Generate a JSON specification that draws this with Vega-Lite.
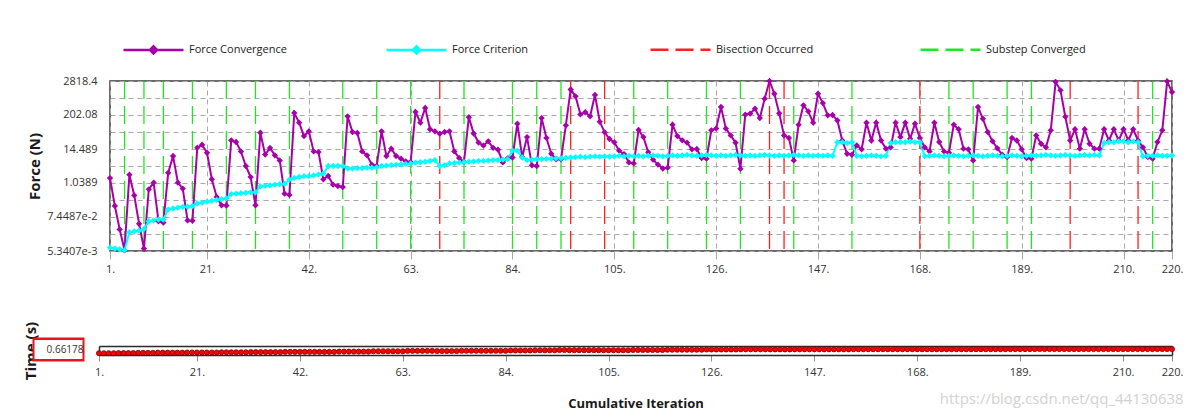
{
"$schema": "https://vega.github.io/schema/vega-lite/v6.json",
"background": "white",
"padding": {"left": 20, "right": 10, "top": 17, "bottom": 3},
"spacing": 46,
"title": {"text": "https://blog.csdn.net/qq_44130638", "orient": "bottom", "anchor": "end", "fontSize": 15, "fontWeight": "normal", "color": "#d2d2d2", "offset": -18, "font": "Open Sans"},
"config": {
 "font": "Open Sans",
 "view": {"stroke": "#3a3a3a", "strokeWidth": 1.5},
 "axis": {"labelFont": "Open Sans", "labelFontSize": 11, "labelColor": "#333333", "titleFont": "Open Sans", "titleFontWeight": "bold", "titleColor": "#1a1a1a"}
},
"datasets": {
"events": [
{"iter":4,"series":"Substep Converged"},{"iter":8,"series":"Substep Converged"},{"iter":12,"series":"Substep Converged"},{"iter":18,"series":"Substep Converged"},{"iter":25,"series":"Substep Converged"},{"iter":31,"series":"Substep Converged"},{"iter":38,"series":"Substep Converged"},{"iter":49,"series":"Substep Converged"},{"iter":56,"series":"Substep Converged"},{"iter":63,"series":"Substep Converged"},{"iter":74,"series":"Substep Converged"},{"iter":84,"series":"Substep Converged"},{"iter":89,"series":"Substep Converged"},{"iter":94,"series":"Substep Converged"},{"iter":109,"series":"Substep Converged"},{"iter":116,"series":"Substep Converged"},{"iter":124,"series":"Substep Converged"},{"iter":131,"series":"Substep Converged"},{"iter":142,"series":"Substep Converged"},{"iter":154,"series":"Substep Converged"},{"iter":174,"series":"Substep Converged"},{"iter":179,"series":"Substep Converged"},{"iter":186,"series":"Substep Converged"},{"iter":191,"series":"Substep Converged"},{"iter":216,"series":"Substep Converged"},
{"iter":69,"series":"Bisection Occurred"},{"iter":96,"series":"Bisection Occurred"},{"iter":103,"series":"Bisection Occurred"},{"iter":137,"series":"Bisection Occurred"},{"iter":140,"series":"Bisection Occurred"},{"iter":168,"series":"Bisection Occurred"},{"iter":199,"series":"Bisection Occurred"},{"iter":213,"series":"Bisection Occurred"}
],
"iters": [
{"iter":1,"Force Convergence":1.522,"Force Criterion":0.00695,"time":0.2},
{"iter":2,"Force Convergence":0.1754,"Force Criterion":0.00651,"time":0.2},
{"iter":3,"Force Convergence":0.02847,"Force Criterion":0.00609,"time":0.2},
{"iter":4,"Force Convergence":0.00563,"Force Criterion":0.0057,"time":0.2},
{"iter":5,"Force Convergence":1.982,"Force Criterion":0.0228,"time":0.22},
{"iter":6,"Force Convergence":0.3971,"Force Criterion":0.0243,"time":0.22},
{"iter":7,"Force Convergence":0.04396,"Force Criterion":0.026,"time":0.22},
{"iter":8,"Force Convergence":0.006421,"Force Criterion":0.0296,"time":0.22},
{"iter":9,"Force Convergence":0.6379,"Force Criterion":0.0536,"time":0.24},
{"iter":10,"Force Convergence":1.067,"Force Criterion":0.0572,"time":0.24},
{"iter":11,"Force Convergence":0.05358,"Force Criterion":0.0611,"time":0.24},
{"iter":12,"Force Convergence":0.04822,"Force Criterion":0.0611,"time":0.24},
{"iter":13,"Force Convergence":2.29,"Force Criterion":0.135,"time":0.26},
{"iter":14,"Force Convergence":8.44,"Force Criterion":0.144,"time":0.26},
{"iter":15,"Force Convergence":1.067,"Force Criterion":0.154,"time":0.26},
{"iter":16,"Force Convergence":0.6724,"Force Criterion":0.164,"time":0.26},
{"iter":17,"Force Convergence":0.05722,"Force Criterion":0.164,"time":0.26},
{"iter":18,"Force Convergence":0.056,"Force Criterion":0.175,"time":0.26},
{"iter":19,"Force Convergence":16.1,"Force Criterion":0.214,"time":0.28},
{"iter":20,"Force Convergence":20.14,"Force Criterion":0.228,"time":0.28},
{"iter":21,"Force Convergence":10.84,"Force Criterion":0.244,"time":0.28},
{"iter":22,"Force Convergence":1.388,"Force Criterion":0.26,"time":0.28},
{"iter":23,"Force Convergence":0.3527,"Force Criterion":0.278,"time":0.28},
{"iter":24,"Force Convergence":0.1849,"Force Criterion":0.297,"time":0.28},
{"iter":25,"Force Convergence":0.182,"Force Criterion":0.317,"time":0.28},
{"iter":26,"Force Convergence":28.38,"Force Criterion":0.441,"time":0.3},
{"iter":27,"Force Convergence":24.87,"Force Criterion":0.453,"time":0.3},
{"iter":28,"Force Convergence":12.05,"Force Criterion":0.471,"time":0.3},
{"iter":29,"Force Convergence":3.879,"Force Criterion":0.484,"time":0.3},
{"iter":30,"Force Convergence":1.647,"Force Criterion":0.503,"time":0.3},
{"iter":31,"Force Convergence":0.1849,"Force Criterion":0.503,"time":0.3},
{"iter":32,"Force Convergence":51.33,"Force Criterion":0.798,"time":0.32},
{"iter":33,"Force Convergence":9.38,"Force Criterion":0.83,"time":0.32},
{"iter":34,"Force Convergence":15.68,"Force Criterion":0.864,"time":0.32},
{"iter":35,"Force Convergence":8.898,"Force Criterion":0.911,"time":0.32},
{"iter":36,"Force Convergence":5.992,"Force Criterion":0.947,"time":0.32},
{"iter":37,"Force Convergence":0.4529,"Force Criterion":0.973,"time":0.32},
{"iter":38,"Force Convergence":0.413,"Force Criterion":1.35,"time":0.32},
{"iter":39,"Force Convergence":236.7,"Force Criterion":1.54,"time":0.35},
{"iter":40,"Force Convergence":111.7,"Force Criterion":1.65,"time":0.35},
{"iter":41,"Force Convergence":39.44,"Force Criterion":1.76,"time":0.35},
{"iter":42,"Force Convergence":57.04,"Force Criterion":1.76,"time":0.35},
{"iter":43,"Force Convergence":12.05,"Force Criterion":1.88,"time":0.35},
{"iter":44,"Force Convergence":11.43,"Force Criterion":2.01,"time":0.35},
{"iter":45,"Force Convergence":1.388,"Force Criterion":2.15,"time":0.35},
{"iter":46,"Force Convergence":1.783,"Force Criterion":3.88,"time":0.35},
{"iter":47,"Force Convergence":0.9106,"Force Criterion":3.88,"time":0.35},
{"iter":48,"Force Convergence":0.8197,"Force Criterion":3.88,"time":0.35},
{"iter":49,"Force Convergence":0.7571,"Force Criterion":3.88,"time":0.35},
{"iter":50,"Force Convergence":181.8,"Force Criterion":3.18,"time":0.38},
{"iter":51,"Force Convergence":54.12,"Force Criterion":3.18,"time":0.38},
{"iter":52,"Force Convergence":50.0,"Force Criterion":3.27,"time":0.38},
{"iter":53,"Force Convergence":12.05,"Force Criterion":3.31,"time":0.38},
{"iter":54,"Force Convergence":8.898,"Force Criterion":3.4,"time":0.38},
{"iter":55,"Force Convergence":4.311,"Force Criterion":3.4,"time":0.38},
{"iter":56,"Force Convergence":3.879,"Force Criterion":3.49,"time":0.38},
{"iter":57,"Force Convergence":57.04,"Force Criterion":3.88,"time":0.42},
{"iter":58,"Force Convergence":8.44,"Force Criterion":3.98,"time":0.42},
{"iter":59,"Force Convergence":14.88,"Force Criterion":4.15,"time":0.42},
{"iter":60,"Force Convergence":8.44,"Force Criterion":4.26,"time":0.42},
{"iter":61,"Force Convergence":6.836,"Force Criterion":4.43,"time":0.42},
{"iter":62,"Force Convergence":5.538,"Force Criterion":4.55,"time":0.42},
{"iter":63,"Force Convergence":5.323,"Force Criterion":4.73,"time":0.42},
{"iter":64,"Force Convergence":256.1,"Force Criterion":5.05,"time":0.46},
{"iter":65,"Force Convergence":111.7,"Force Criterion":5.19,"time":0.46},
{"iter":66,"Force Convergence":346.8,"Force Criterion":5.4,"time":0.46},
{"iter":67,"Force Convergence":66.8,"Force Criterion":5.76,"time":0.46},
{"iter":68,"Force Convergence":57.04,"Force Criterion":6.15,"time":0.46},
{"iter":69,"Force Convergence":47.45,"Force Criterion":3.88,"time":0.46},
{"iter":70,"Force Convergence":54.12,"Force Criterion":4.15,"time":0.44},
{"iter":71,"Force Convergence":57.04,"Force Criterion":4.73,"time":0.44},
{"iter":72,"Force Convergence":12.05,"Force Criterion":4.86,"time":0.44},
{"iter":73,"Force Convergence":7.208,"Force Criterion":5.05,"time":0.44},
{"iter":74,"Force Convergence":5.323,"Force Criterion":5.19,"time":0.44},
{"iter":75,"Force Convergence":170.2,"Force Criterion":5.4,"time":0.47},
{"iter":76,"Force Convergence":48.07,"Force Criterion":5.54,"time":0.47},
{"iter":77,"Force Convergence":23.9,"Force Criterion":5.76,"time":0.47},
{"iter":78,"Force Convergence":18.86,"Force Criterion":5.76,"time":0.47},
{"iter":79,"Force Convergence":26.21,"Force Criterion":5.92,"time":0.47},
{"iter":80,"Force Convergence":15.89,"Force Criterion":6.15,"time":0.47},
{"iter":81,"Force Convergence":13.75,"Force Criterion":6.15,"time":0.47},
{"iter":82,"Force Convergence":5.117,"Force Criterion":6.32,"time":0.47},
{"iter":83,"Force Convergence":7.02,"Force Criterion":6.57,"time":0.47},
{"iter":84,"Force Convergence":7.498,"Force Criterion":12.7,"time":0.47},
{"iter":85,"Force Convergence":103.2,"Force Criterion":12.7,"time":0.5},
{"iter":86,"Force Convergence":7.801,"Force Criterion":7.5,"time":0.5},
{"iter":87,"Force Convergence":36.44,"Force Criterion":6.15,"time":0.5},
{"iter":88,"Force Convergence":4.09,"Force Criterion":6.32,"time":0.5},
{"iter":89,"Force Convergence":3.879,"Force Criterion":6.57,"time":0.5},
{"iter":90,"Force Convergence":159.4,"Force Criterion":6.57,"time":0.52},
{"iter":91,"Force Convergence":34.12,"Force Criterion":6.75,"time":0.52},
{"iter":92,"Force Convergence":10.02,"Force Criterion":6.75,"time":0.52},
{"iter":93,"Force Convergence":6.486,"Force Criterion":7.02,"time":0.52},
{"iter":94,"Force Convergence":6.572,"Force Criterion":7.02,"time":0.52},
{"iter":95,"Force Convergence":90.45,"Force Criterion":7.21,"time":0.55},
{"iter":96,"Force Convergence":1458,"Force Criterion":7.5,"time":0.55},
{"iter":97,"Force Convergence":861,"Force Criterion":7.7,"time":0.54},
{"iter":98,"Force Convergence":213,"Force Criterion":8.01,"time":0.54},
{"iter":99,"Force Convergence":249.5,"Force Criterion":7.7,"time":0.54},
{"iter":100,"Force Convergence":181.8,"Force Criterion":8.01,"time":0.54},
{"iter":101,"Force Convergence":956.8,"Force Criterion":8.22,"time":0.54},
{"iter":102,"Force Convergence":119.3,"Force Criterion":8.01,"time":0.54},
{"iter":103,"Force Convergence":52.71,"Force Criterion":8.22,"time":0.54},
{"iter":104,"Force Convergence":31.52,"Force Criterion":8.01,"time":0.53},
{"iter":105,"Force Convergence":24.22,"Force Criterion":8.22,"time":0.53},
{"iter":106,"Force Convergence":12.7,"Force Criterion":8.55,"time":0.53},
{"iter":107,"Force Convergence":9.759,"Force Criterion":8.22,"time":0.53},
{"iter":108,"Force Convergence":5.117,"Force Criterion":8.55,"time":0.53},
{"iter":109,"Force Convergence":4.727,"Force Criterion":8.22,"time":0.53},
{"iter":110,"Force Convergence":63.37,"Force Criterion":8.55,"time":0.56},
{"iter":111,"Force Convergence":36.44,"Force Criterion":8.22,"time":0.56},
{"iter":112,"Force Convergence":11.28,"Force Criterion":8.55,"time":0.56},
{"iter":113,"Force Convergence":6.317,"Force Criterion":8.78,"time":0.56},
{"iter":114,"Force Convergence":4.311,"Force Criterion":8.55,"time":0.56},
{"iter":115,"Force Convergence":3.2,"Force Criterion":8.22,"time":0.56},
{"iter":116,"Force Convergence":3.4,"Force Criterion":8.55,"time":0.56},
{"iter":117,"Force Convergence":95.36,"Force Criterion":8.78,"time":0.59},
{"iter":118,"Force Convergence":39.44,"Force Criterion":8.55,"time":0.59},
{"iter":119,"Force Convergence":28.38,"Force Criterion":8.78,"time":0.59},
{"iter":120,"Force Convergence":23.59,"Force Criterion":9.14,"time":0.59},
{"iter":121,"Force Convergence":14.11,"Force Criterion":8.78,"time":0.59},
{"iter":122,"Force Convergence":14.49,"Force Criterion":8.55,"time":0.59},
{"iter":123,"Force Convergence":7.208,"Force Criterion":8.78,"time":0.59},
{"iter":124,"Force Convergence":6.836,"Force Criterion":9.14,"time":0.59},
{"iter":125,"Force Convergence":61.74,"Force Criterion":8.78,"time":0.61},
{"iter":126,"Force Convergence":70.41,"Force Criterion":8.55,"time":0.61},
{"iter":127,"Force Convergence":375.4,"Force Criterion":8.78,"time":0.61},
{"iter":128,"Force Convergence":70.41,"Force Criterion":8.55,"time":0.61},
{"iter":129,"Force Convergence":41.57,"Force Criterion":8.78,"time":0.61},
{"iter":130,"Force Convergence":23.59,"Force Criterion":9.14,"time":0.61},
{"iter":131,"Force Convergence":3.142,"Force Criterion":8.78,"time":0.61},
{"iter":132,"Force Convergence":207.5,"Force Criterion":8.55,"time":0.63},
{"iter":133,"Force Convergence":224.5,"Force Criterion":8.78,"time":0.63},
{"iter":134,"Force Convergence":329,"Force Criterion":8.55,"time":0.63},
{"iter":135,"Force Convergence":159.4,"Force Criterion":8.78,"time":0.63},
{"iter":136,"Force Convergence":715.8,"Force Criterion":9.14,"time":0.63},
{"iter":137,"Force Convergence":2818.4,"Force Criterion":8.78,"time":0.63},
{"iter":138,"Force Convergence":1049,"Force Criterion":8.55,"time":0.625},
{"iter":139,"Force Convergence":230.5,"Force Criterion":8.78,"time":0.625},
{"iter":140,"Force Convergence":41.57,"Force Criterion":8.55,"time":0.625},
{"iter":141,"Force Convergence":34.12,"Force Criterion":8.78,"time":0.62},
{"iter":142,"Force Convergence":5.992,"Force Criterion":9.14,"time":0.62},
{"iter":143,"Force Convergence":95.36,"Force Criterion":8.78,"time":0.63},
{"iter":144,"Force Convergence":428.2,"Force Criterion":8.55,"time":0.63},
{"iter":145,"Force Convergence":266.5,"Force Criterion":8.78,"time":0.63},
{"iter":146,"Force Convergence":111.7,"Force Criterion":8.55,"time":0.63},
{"iter":147,"Force Convergence":1049,"Force Criterion":8.78,"time":0.63},
{"iter":148,"Force Convergence":508.3,"Force Criterion":8.55,"time":0.63},
{"iter":149,"Force Convergence":196.9,"Force Criterion":8.78,"time":0.63},
{"iter":150,"Force Convergence":202.1,"Force Criterion":8.55,"time":0.63},
{"iter":151,"Force Convergence":132.6,"Force Criterion":24.5,"time":0.63},
{"iter":152,"Force Convergence":28.01,"Force Criterion":24.5,"time":0.63},
{"iter":153,"Force Convergence":10.02,"Force Criterion":23.0,"time":0.63},
{"iter":154,"Force Convergence":9.259,"Force Criterion":24.5,"time":0.63},
{"iter":155,"Force Convergence":19.11,"Force Criterion":8.55,"time":0.645},
{"iter":156,"Force Convergence":14.11,"Force Criterion":8.22,"time":0.645},
{"iter":157,"Force Convergence":111.7,"Force Criterion":8.55,"time":0.645},
{"iter":158,"Force Convergence":28.01,"Force Criterion":8.78,"time":0.645},
{"iter":159,"Force Convergence":111.7,"Force Criterion":8.55,"time":0.645},
{"iter":160,"Force Convergence":28.01,"Force Criterion":8.22,"time":0.645},
{"iter":161,"Force Convergence":14.88,"Force Criterion":8.55,"time":0.645},
{"iter":162,"Force Convergence":16.53,"Force Criterion":23.0,"time":0.645},
{"iter":163,"Force Convergence":111.7,"Force Criterion":24.5,"time":0.645},
{"iter":164,"Force Convergence":36.44,"Force Criterion":24.5,"time":0.645},
{"iter":165,"Force Convergence":111.7,"Force Criterion":24.5,"time":0.645},
{"iter":166,"Force Convergence":31.94,"Force Criterion":26.2,"time":0.645},
{"iter":167,"Force Convergence":103.2,"Force Criterion":24.5,"time":0.645},
{"iter":168,"Force Convergence":34.12,"Force Criterion":24.5,"time":0.645},
{"iter":169,"Force Convergence":16.53,"Force Criterion":8.22,"time":0.64},
{"iter":170,"Force Convergence":12.05,"Force Criterion":8.55,"time":0.64},
{"iter":171,"Force Convergence":111.7,"Force Criterion":8.78,"time":0.64},
{"iter":172,"Force Convergence":24.87,"Force Criterion":8.55,"time":0.64},
{"iter":173,"Force Convergence":12.05,"Force Criterion":8.22,"time":0.64},
{"iter":174,"Force Convergence":10.84,"Force Criterion":8.55,"time":0.64},
{"iter":175,"Force Convergence":95.36,"Force Criterion":8.78,"time":0.645},
{"iter":176,"Force Convergence":66.8,"Force Criterion":8.55,"time":0.645},
{"iter":177,"Force Convergence":14.88,"Force Criterion":8.22,"time":0.645},
{"iter":178,"Force Convergence":14.11,"Force Criterion":8.55,"time":0.645},
{"iter":179,"Force Convergence":5.992,"Force Criterion":8.78,"time":0.645},
{"iter":180,"Force Convergence":375.4,"Force Criterion":8.55,"time":0.65},
{"iter":181,"Force Convergence":151.2,"Force Criterion":8.22,"time":0.65},
{"iter":182,"Force Convergence":54.12,"Force Criterion":8.55,"time":0.65},
{"iter":183,"Force Convergence":26.21,"Force Criterion":8.78,"time":0.65},
{"iter":184,"Force Convergence":15.27,"Force Criterion":8.55,"time":0.65},
{"iter":185,"Force Convergence":9.259,"Force Criterion":8.22,"time":0.65},
{"iter":186,"Force Convergence":7.801,"Force Criterion":8.55,"time":0.65},
{"iter":187,"Force Convergence":34.12,"Force Criterion":8.78,"time":0.655},
{"iter":188,"Force Convergence":28.01,"Force Criterion":8.55,"time":0.655},
{"iter":189,"Force Convergence":14.11,"Force Criterion":8.22,"time":0.655},
{"iter":190,"Force Convergence":7.208,"Force Criterion":8.55,"time":0.655},
{"iter":191,"Force Convergence":6.836,"Force Criterion":8.78,"time":0.655},
{"iter":192,"Force Convergence":41.57,"Force Criterion":8.55,"time":0.662},
{"iter":193,"Force Convergence":21.8,"Force Criterion":8.78,"time":0.662},
{"iter":194,"Force Convergence":16.53,"Force Criterion":9.14,"time":0.662},
{"iter":195,"Force Convergence":61.74,"Force Criterion":8.78,"time":0.662},
{"iter":196,"Force Convergence":2638,"Force Criterion":8.55,"time":0.662},
{"iter":197,"Force Convergence":1365,"Force Criterion":8.78,"time":0.662},
{"iter":198,"Force Convergence":177.1,"Force Criterion":9.14,"time":0.662},
{"iter":199,"Force Convergence":28.01,"Force Criterion":8.78,"time":0.662},
{"iter":200,"Force Convergence":66.8,"Force Criterion":8.55,"time":0.659},
{"iter":201,"Force Convergence":14.88,"Force Criterion":8.78,"time":0.659},
{"iter":202,"Force Convergence":66.8,"Force Criterion":9.14,"time":0.659},
{"iter":203,"Force Convergence":21.8,"Force Criterion":8.78,"time":0.659},
{"iter":204,"Force Convergence":14.88,"Force Criterion":9.14,"time":0.659},
{"iter":205,"Force Convergence":14.88,"Force Criterion":8.78,"time":0.659},
{"iter":206,"Force Convergence":66.8,"Force Criterion":23.0,"time":0.659},
{"iter":207,"Force Convergence":28.01,"Force Criterion":24.5,"time":0.659},
{"iter":208,"Force Convergence":66.8,"Force Criterion":24.5,"time":0.659},
{"iter":209,"Force Convergence":28.01,"Force Criterion":26.2,"time":0.659},
{"iter":210,"Force Convergence":66.8,"Force Criterion":26.2,"time":0.659},
{"iter":211,"Force Convergence":28.01,"Force Criterion":24.5,"time":0.659},
{"iter":212,"Force Convergence":66.8,"Force Criterion":26.2,"time":0.659},
{"iter":213,"Force Convergence":28.01,"Force Criterion":24.5,"time":0.659},
{"iter":214,"Force Convergence":16.53,"Force Criterion":8.22,"time":0.657},
{"iter":215,"Force Convergence":7.801,"Force Criterion":8.55,"time":0.657},
{"iter":216,"Force Convergence":6.836,"Force Criterion":8.55,"time":0.657},
{"iter":217,"Force Convergence":24.87,"Force Criterion":8.78,"time":0.66178},
{"iter":218,"Force Convergence":61.74,"Force Criterion":8.55,"time":0.66178},
{"iter":219,"Force Convergence":2750,"Force Criterion":8.55,"time":0.66178},
{"iter":220,"Force Convergence":1197,"Force Criterion":8.78,"time":0.66178}
]
},
"vconcat": [
{
 "width": 1062,
 "height": 170,
 "layer": [
  {
   "data": {"name": "events"},
   "mark": {"type": "rule", "strokeWidth": 1.3},
   "encoding": {
    "x": {"field": "iter", "type": "quantitative", "scale": {"domain": [1, 220], "nice": false, "zero": false},
      "axis": {"values": [1,21,42,63,84,105,126,147,168,189,210,220], "labelExpr": "datum.value + '.'", "title": null, "grid": true, "gridColor": "#a8a8a8", "gridDash": [5,4], "domain": false, "ticks": true, "tickColor": "#a8a8a8", "tickSize": 8, "labelPadding": 4, "labelFlush": false}},
    "stroke": {"field": "series", "type": "nominal", "scale": {"domain": ["Bisection Occurred","Substep Converged"], "range": ["#ff2020","#22e622"]},
      "legend": {"title": null, "orient": "none", "legendX": 539, "legendY": -63, "direction": "horizontal", "columns": 2, "gridAlign": "all", "columnPadding": 99, "symbolType": "stroke", "symbolSize": 3600, "symbolStrokeWidth": 2.5, "labelFontSize": 11, "labelColor": "#222222"}},
    "strokeDash": {"field": "series", "type": "nominal", "scale": {"domain": ["Bisection Occurred","Substep Converged"], "range": [[18,7],[18,7]]},
      "legend": {"title": null, "orient": "none", "legendX": 539, "legendY": -63, "direction": "horizontal", "columns": 2, "gridAlign": "all", "columnPadding": 99, "symbolType": "stroke", "symbolSize": 3600, "symbolStrokeWidth": 2.5, "labelFontSize": 11, "labelColor": "#222222"}}
   }
  },
  {
   "data": {"name": "iters"},
   "transform": [{"fold": ["Force Convergence", "Force Criterion"], "as": ["series", "force"]}],
   "mark": {"type": "line", "strokeWidth": 2, "point": {"filled": true, "size": 40, "shape": "diamond"}},
   "encoding": {
    "x": {"field": "iter", "type": "quantitative"},
    "y": {"field": "force", "type": "quantitative", "scale": {"type": "log", "domain": [0.0053407, 2818.4], "nice": false},
      "axis": {"values": [0.0053407,0.019945,0.074487,0.27818,1.0389,3.8799,14.489,54.111,202.08,754.67,2818.4], "labelExpr": "['5.3407e-3','','7.4487e-2','','1.0389','','14.489','','202.08','','2818.4'][round(datum.index*10)]", "title": "Force (N)", "titleFontSize": 15, "titlePadding": 0, "grid": true, "gridColor": "#a8a8a8", "gridDash": [5,4], "ticks": false, "domain": false, "labelPadding": 13, "minExtent": 68, "maxExtent": 68}},
    "color": {"field": "series", "type": "nominal", "scale": {"domain": ["Force Convergence","Force Criterion"], "range": ["#a800a8","#00ffff"]},
      "legend": {"title": null, "orient": "none", "legendX": 12, "legendY": -63, "direction": "horizontal", "columns": 2, "gridAlign": "all", "columnPadding": 94, "symbolType": "M-1,0H1M0,-0.12L0.12,0L0,0.12L-0.12,0Z", "symbolSize": 3600, "symbolStrokeWidth": 2.5, "labelFontSize": 11, "labelColor": "#222222",
        "encode": {"symbols": {"update": {"fill": {"scale": "color", "field": "value"}}}}}}
   }
  }
 ],
 "resolve": {"scale": {"color": "independent"}}
},
{
 "width": 1062,
 "height": 9,
 "view": {"stroke": null},
 "data": {"name": "iters"},
 "layer": [
  {
   "mark": {"type": "line", "color": "#e00000", "strokeWidth": 1.5, "point": {"filled": true, "size": 26, "shape": "circle", "color": "#ff0000", "stroke": "#7a0000", "strokeWidth": 0.8}},
   "encoding": {
    "x": {"field": "iter", "type": "quantitative", "scale": {"domain": [1, 220], "range": [-11, 1062], "nice": false, "zero": false},
      "axis": {"values": [1,21,42,63,84,105,126,147,168,189,210,220], "labelExpr": "datum.value + '.'", "title": "Cumulative Iteration", "titleFontSize": 13, "titlePadding": 20, "grid": false, "domain": true, "domainColor": "#2a2a2a", "domainWidth": 1.5, "ticks": true, "tickColor": "#909090", "tickSize": 6, "labelPadding": 5, "labelFlush": false}},
    "y": {"field": "time", "type": "quantitative", "scale": {"domain": [0, 1], "nice": false},
      "axis": {"values": [0.66178], "labels": false, "title": "Time (s)", "titleFontSize": 15, "titlePadding": 8, "grid": false, "domain": true, "domainColor": "#2a2a2a", "domainWidth": 1.5, "offset": 11, "ticks": false, "minExtent": 53, "maxExtent": 53}}
   }
  },
  {
   "mark": {"type": "line", "opacity": 0},
   "encoding": {
    "x": {"field": "iter", "type": "quantitative", "scale": {"domain": [1, 220], "range": [-11, 1062], "nice": false, "zero": false},
      "axis": {"orient": "top", "labels": false, "ticks": false, "grid": false, "title": null, "domain": true, "domainColor": "#2a2a2a", "domainWidth": 1.5}},
    "y": {"field": "time", "type": "quantitative", "scale": {"domain": [0, 1], "nice": false},
      "axis": {"orient": "right", "labels": false, "ticks": false, "grid": false, "title": null, "domain": true, "domainColor": "#2a2a2a", "domainWidth": 1.5}}
   }
  },
  {
   "mark": {"type": "line", "opacity": 0},
   "encoding": {
    "x": {"field": "iter", "type": "quantitative", "scale": {"domain": [1, 220], "range": [-11, 1062], "nice": false, "zero": false}, "axis": null},
    "y": {"field": "time", "type": "quantitative", "scale": {"domain": [0, 1], "nice": false},
      "axis": {"orient": "left", "values": [0.66178], "labels": false, "ticks": true, "tickColor": "#e8141c", "tickSize": 52, "tickWidth": 24, "grid": false, "title": null, "domain": false, "offset": 26}}
   }
  },
  {
   "mark": {"type": "line", "opacity": 0},
   "encoding": {
    "x": {"field": "iter", "type": "quantitative", "scale": {"domain": [1, 220], "range": [-11, 1062], "nice": false, "zero": false}, "axis": null},
    "y": {"field": "time", "type": "quantitative", "scale": {"domain": [0, 1], "nice": false},
      "axis": {"orient": "left", "values": [0.66178], "labelExpr": "'0.66178'", "labelFontSize": 10, "labelColor": "#333333", "labelPadding": -49, "ticks": true, "tickColor": "#ffffff", "tickSize": 48, "tickWidth": 19, "grid": false, "title": null, "domain": false, "offset": 28}}
   }
  }
 ],
 "resolve": {"axis": {"x": "independent", "y": "independent"}}
}
]
}
